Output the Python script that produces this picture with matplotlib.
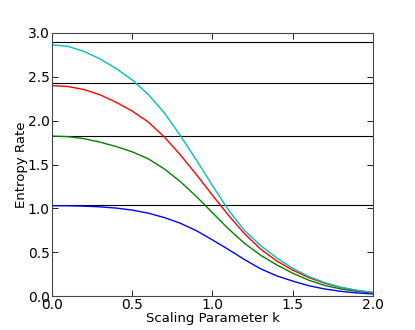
import matplotlib
matplotlib.use("Agg")
import matplotlib.pyplot as plt

# valores: parametro k e taxa de entropia de cada curva
k = [0.0, 0.1, 0.2, 0.3, 0.4, 0.5, 0.6, 0.7, 0.8, 0.9, 1.0,
     1.1, 1.2, 1.3, 1.4, 1.5, 1.6, 1.7, 1.8, 1.9, 2.0]

h_azul = [1.030, 1.029, 1.025, 1.017, 1.003, 0.980, 0.945, 0.895, 0.830, 0.745, 0.640,
          0.530, 0.415, 0.310, 0.230, 0.170, 0.117, 0.080, 0.053, 0.035, 0.023]
h_verde = [1.824, 1.818, 1.795, 1.755, 1.705, 1.645, 1.565, 1.450, 1.305, 1.135, 0.950,
           0.765, 0.600, 0.465, 0.355, 0.260, 0.180, 0.120, 0.080, 0.053, 0.034]
h_verm = [2.400, 2.390, 2.355, 2.295, 2.210, 2.110, 1.985, 1.815, 1.610, 1.385, 1.150,
          0.920, 0.710, 0.535, 0.400, 0.295, 0.210, 0.145, 0.097, 0.062, 0.038]
h_ciano = [2.865, 2.848, 2.790, 2.705, 2.595, 2.465, 2.300, 2.090, 1.830, 1.550, 1.260,
           0.980, 0.745, 0.575, 0.435, 0.315, 0.222, 0.152, 0.100, 0.065, 0.042]

# limites (linhas horizontais)
limites = [1.04, 1.83, 2.43, 2.90]

plt.rcParams['font.size'] = 9.5
plt.rcParams['xtick.labelsize'] = 10
plt.rcParams['ytick.labelsize'] = 10
plt.rcParams['xtick.direction'] = 'in'
plt.rcParams['ytick.direction'] = 'in'
plt.rcParams['xtick.top'] = True
plt.rcParams['ytick.right'] = True

fig = plt.figure(figsize=(4.15, 3.3), dpi=100)
ax = fig.add_axes([0.125, 0.103, 0.774, 0.797])

for h in limites:
    ax.axhline(h, color='k', lw=0.8)

ax.plot(k, h_azul, color='b', lw=1.0)
ax.plot(k, h_verde, color='g', lw=1.0)
ax.plot(k, h_verm, color='r', lw=1.0)
ax.plot(k, h_ciano, color='c', lw=1.0)

ax.set_xlim(0, 2)
ax.set_ylim(0, 3)
ax.set_xticks([0, 0.5, 1.0, 1.5, 2.0])
ax.set_yticks([0, 0.5, 1.0, 1.5, 2.0, 2.5, 3.0])
ax.set_xticklabels(['0.0', '0.5', '1.0', '1.5', '2.0'])
ax.set_yticklabels(['0.0', '0.5', '1.0', '1.5', '2.0', '2.5', '3.0'])
ax.tick_params(length=4, width=0.6, pad=1.5)
for s in ax.spines.values():
    s.set_color('#444444')

ax.set_xlabel('Scaling Parameter k', labelpad=0)
ax.set_ylabel('Entropy Rate', labelpad=0)

fig.savefig('out.png', dpi=100)
